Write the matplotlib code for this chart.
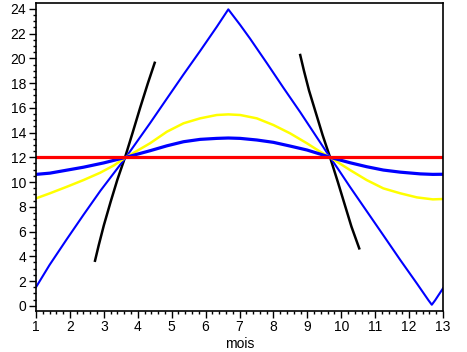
import matplotlib
matplotlib.use("Agg")
import matplotlib.pyplot as plt
from matplotlib.ticker import MultipleLocator

plt.rcParams['font.family'] = ['Liberation Sans', 'DejaVu Sans']

# Red line (constant 12)
red_x = [1, 13]
red_y = [12, 12]

# Flat blue curve
blue1_x = [1.0, 1.41, 2.40, 3.0, 3.65, 4.36, 4.86, 5.35, 5.84, 6.33, 6.67, 7.02, 7.51, 8.0, 8.49, 8.99, 9.38, 9.67, 10.26, 10.75, 11.24, 11.74, 12.33, 12.7, 13.0]
blue1_y = [10.62, 10.72, 11.2, 11.55, 12.0, 12.53, 12.93, 13.26, 13.45, 13.53, 13.56, 13.53, 13.40, 13.21, 12.91, 12.59, 12.26, 12.0, 11.56, 11.24, 10.97, 10.80, 10.66, 10.62, 10.63]

# Yellow curve
yellow_x = [1.0, 1.41, 1.91, 2.40, 2.89, 3.30, 3.65, 4.36, 4.86, 5.35, 5.84, 6.33, 6.67, 7.02, 7.51, 8.0, 8.49, 8.99, 9.38, 9.67, 10.26, 10.75, 11.24, 11.74, 12.23, 12.7, 13.0]
yellow_y = [8.68, 9.09, 9.62, 10.16, 10.75, 11.35, 12.0, 13.13, 14.07, 14.75, 15.15, 15.42, 15.47, 15.42, 15.15, 14.61, 13.94, 13.13, 12.45, 12.0, 10.97, 10.16, 9.49, 9.09, 8.76, 8.6, 8.63]

# Blue "triangle" curve
blue2_x = [1.0, 1.4, 1.9, 2.4, 2.9, 3.4, 3.65, 4.36, 4.86, 5.35, 5.84, 6.33, 6.67, 7.02, 7.31, 7.81, 8.30, 8.79, 9.38, 9.67, 9.92, 10.26, 10.75, 11.24, 11.74, 12.23, 12.57, 12.67, 12.77, 13.0]
blue2_y = [1.5, 3.3, 5.35, 7.35, 9.3, 11.1, 12.0, 14.75, 16.75, 18.7, 20.6, 22.55, 23.96, 22.7, 21.6, 19.6, 17.6, 15.65, 13.2, 12.0, 11.0, 9.6, 7.65, 5.7, 3.7, 1.8, 0.45, 0.08, 0.45, 1.41]

# Black curves (two pieces)
black1_x = [2.74, 2.85, 3.0, 3.2, 3.4, 3.63, 3.85, 4.07, 4.3, 4.50]
black1_y = [3.64, 4.9, 6.5, 8.4, 10.2, 12.04, 14.0, 16.0, 18.0, 19.64]
black2_x = [8.79, 8.9, 9.05, 9.25, 9.45, 9.67, 9.9, 10.1, 10.3, 10.53]
black2_y = [20.27, 19.0, 17.4, 15.6, 13.8, 12.0, 10.0, 8.2, 6.4, 4.64]

xticks = list(range(1, 14))
yticks = list(range(0, 25, 2))

fig = plt.figure(figsize=(4.67, 3.52), dpi=100)
ax = fig.add_axes([36 / 467, 41.3 / 352, (443 - 36) / 467, (310.7 - 3.3) / 352])

ax.plot(black1_x, black1_y, color='black', lw=1.8)
ax.plot(black2_x, black2_y, color='black', lw=1.8)
ax.plot(blue2_x, blue2_y, color='#0000ff', lw=1.5)
ax.plot(yellow_x, yellow_y, color='#ffff00', lw=1.8)
ax.plot(blue1_x, blue1_y, color='#0000ff', lw=2.3)
ax.plot(red_x, red_y, color='#ff0000', lw=2.3)

ax.set_xlim(1, 13)
ax.set_ylim(-0.4, 24.45)
ax.set_xticks(xticks)
ax.set_yticks(yticks)
ax.xaxis.set_minor_locator(MultipleLocator(0.2))
ax.yaxis.set_minor_locator(MultipleLocator(0.5))
ax.tick_params(which='major', direction='out', length=5, width=1, labelsize=10, pad=2)
ax.tick_params(which='minor', direction='out', length=2.5, width=1)
for s in ax.spines.values():
    s.set_linewidth(1.2)
ax.set_xlabel('mois', fontsize=10, labelpad=1.5)

fig.savefig('out.png', dpi=100)
